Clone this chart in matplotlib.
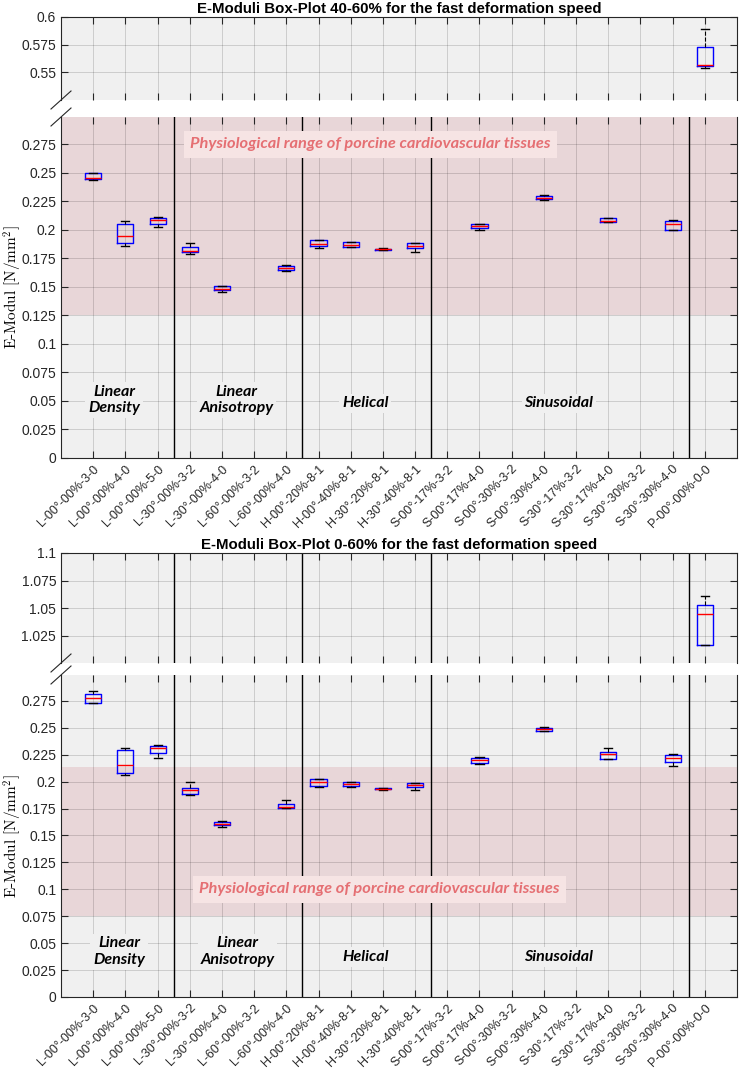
import numpy as np
import matplotlib
matplotlib.use('Agg')
import matplotlib.pyplot as plt
from matplotlib.lines import Line2D

plt.rcParams['font.family'] = ['Liberation Sans', 'DejaVu Sans']
plt.rcParams['mathtext.fontset'] = 'cm'
plt.rcParams['axes.formatter.use_mathtext'] = True

labels = ['L-00°-00%-3-0', 'L-00°-00%-4-0', 'L-00°-00%-5-0', 'L-30°-00%-3-2',
          'L-30°-00%-4-0', 'L-60°-00%-3-2', 'L-60°-00%-4-0', 'H-00°-20%-8-1',
          'H-00°-40%-8-1', 'H-30°-20%-8-1', 'H-30°-40%-8-1', 'S-00°-17%-3-2',
          'S-00°-17%-4-0', 'S-00°-30%-3-2', 'S-00°-30%-4-0', 'S-30°-17%-3-2',
          'S-30°-17%-4-0', 'S-30°-30%-3-2', 'S-30°-30%-4-0', 'P-00°-00%-0-0']
nan = np.nan

# 40-60 % range
med_a = [0.2452, 0.1945, 0.2091, 0.1816, 0.1486, nan, 0.1662, 0.1877, 0.1872, 0.1831,
         0.1860, nan, 0.2033, nan, 0.2284, nan, 0.2079, nan, 0.2053, 0.5566]
q1_a = [0.2445, 0.1886, 0.2053, 0.1802, 0.1474, nan, 0.1650, 0.1863, 0.1851, 0.1826,
        0.1837, nan, 0.2018, nan, 0.2272, nan, 0.2065, nan, 0.2003, 0.5554]
q3_a = [0.2495, 0.2050, 0.2108, 0.1854, 0.1504, nan, 0.1682, 0.1910, 0.1892, 0.1836,
        0.1883, nan, 0.2050, nan, 0.2298, nan, 0.2102, nan, 0.2076, 0.5725]
lo_a = [0.2438, 0.1863, 0.2024, 0.1787, 0.1457, nan, 0.1641, 0.1842, 0.1848, 0.1822,
        0.1805, nan, 0.2003, nan, 0.2266, nan, 0.2065, nan, 0.1997, 0.5536]
hi_a = [0.2498, 0.2079, 0.2117, 0.1881, 0.1507, nan, 0.1691, 0.1915, 0.1898, 0.1839,
        0.1885, nan, 0.2056, nan, 0.2304, nan, 0.2108, nan, 0.2088, 0.5890]

# 0-60 % range
med_b = [0.2773, 0.2151, 0.2314, 0.1918, 0.1608, nan, 0.1766, 0.1996, 0.1974, 0.1933,
         0.1965, nan, 0.2197, nan, 0.2485, nan, 0.2258, nan, 0.2218, 1.0442]
q1_b = [0.2732, 0.2076, 0.2265, 0.1887, 0.1596, nan, 0.1751, 0.1961, 0.1955, 0.1928,
        0.1946, nan, 0.2172, nan, 0.2472, nan, 0.2209, nan, 0.2178, 1.0167]
q3_b = [0.2810, 0.2293, 0.2330, 0.1937, 0.1624, nan, 0.1794, 0.2023, 0.1996, 0.1940,
        0.1986, nan, 0.2221, nan, 0.2497, nan, 0.2271, nan, 0.2246, 1.0523]
lo_b = [0.2728, 0.2058, 0.2216, 0.1875, 0.1578, nan, 0.1751, 0.1946, 0.1952, 0.1925,
        0.1918, nan, 0.2160, nan, 0.2469, nan, 0.2209, nan, 0.2144, 1.0167]
hi_b = [0.2838, 0.2314, 0.2336, 0.1993, 0.1636, nan, 0.1825, 0.2023, 0.1999, 0.1945,
        0.1989, nan, 0.2224, nan, 0.2504, nan, 0.2314, nan, 0.2258, 1.0607]

groups = ['Linear\nDensity', 'Linear\nAnisotropy', 'Helical', 'Sinusoidal']
separators = [3.5, 7.5, 11.5, 19.5]
phys_text = 'Physiological range of porcine cardiovascular tissues'

W, H = 740, 1074
BG = '#f0f0f0'
PINK = '#e8d6d8'
DARK = '#262626'


def px_rect(x0, y0, x1, y1):
    return [x0 / W, 1 - y1 / H, (x1 - x0) / W, (y1 - y0) / H]


def make_stats(med, q1, q3, lo, hi):
    stats, pos = [], []
    for i in range(len(med)):
        if np.isnan(med[i]):
            continue
        stats.append(dict(med=med[i], q1=q1[i], q3=q3[i], whislo=lo[i], whishi=hi[i], fliers=[]))
        pos.append(i + 1)
    return stats, pos


def style_axis(ax):
    ax.set_facecolor(BG)
    ax.set_xlim(0, 21)
    ax.set_xticks(range(1, 21))
    ax.grid(True, color='k', alpha=0.15, lw=0.7)
    ax.set_axisbelow(True)
    ax.tick_params(direction='in', length=5, top=True, right=True, colors=DARK,
                   labelsize=10)
    for s in ax.spines.values():
        s.set_color(DARK)
        s.set_linewidth(0.8)


def draw_boxes(ax, stats, pos):
    ax.bxp(stats, positions=pos, widths=0.5, capwidths=0.25, showfliers=False,
           boxprops=dict(color='#0000ff', lw=1.0),
           medianprops=dict(color='#ff0000', lw=1.0),
           whiskerprops=dict(color='k', lw=0.8, ls='--'),
           capprops=dict(color='k', lw=1.0), manage_ticks=False, zorder=5)


def panel(top_rect, low_rect, title, top_lim, top_ticks, low_lim, shade, data,
          phys_xy, group_xy, top_sep):
    stats, pos = make_stats(*data)
    ax_t = fig.add_axes(px_rect(*top_rect))
    ax_l = fig.add_axes(px_rect(*low_rect))
    for ax in (ax_t, ax_l):
        style_axis(ax)
        draw_boxes(ax, stats, pos)
    ax_t.set_ylim(*top_lim)
    ax_t.set_yticks(top_ticks)
    ax_t.set_yticklabels(['%g' % t for t in top_ticks])
    ax_t.set_xticklabels([])
    ax_t.spines['bottom'].set_visible(False)
    ax_t.set_title(title, fontsize=10.8, fontweight='bold', pad=3)

    ax_l.set_ylim(*low_lim)
    lt = np.arange(0, 0.28, 0.025)
    ax_l.set_yticks(lt)
    ax_l.set_yticklabels(['%g' % round(t, 3) for t in lt])
    ax_l.spines['top'].set_visible(False)
    ax_l.set_xticklabels(labels, rotation=45, ha='right', rotation_mode='anchor',
                         fontsize=9)
    ax_l.set_ylabel('E-Modul [N/mm$^2$]', fontsize=11, family='cmr10', va='center')
    ax_l.yaxis.set_label_coords((12.5 - 61) / 676, 0.5)
    ax_l.axhspan(shade[0], shade[1], color=PINK, zorder=0.3, lw=0)

    for x in separators:
        ax_l.axvline(x, color='k', lw=1.0, zorder=1)
        if top_sep:
            ax_t.axvline(x, color='k', lw=1.0, zorder=1)

    ax_l.text(phys_xy[0], phys_xy[1], phys_text, ha='center', va='center',
              fontsize=11.8, color='#e56f73', family='Lato', style='italic',
              fontweight='bold', zorder=3,
              bbox=dict(facecolor='#f6e4e4', edgecolor='none', pad=4.5))
    for g, (x, y) in zip(groups, group_xy):
        ax_l.text(x, y, g, ha='center', va='center', fontsize=11.5, family='Lato',
                  style='italic', fontweight='bold', color='k', zorder=3,
                  linespacing=1.25,
                  bbox=dict(facecolor=BG, edgecolor='none', pad=2))

    # break marks
    for yy in (top_rect[3], low_rect[1]):
        x0 = top_rect[0]
        fig.add_artist(Line2D([(x0 - 10) / W, (x0 + 10) / W],
                              [1 - (yy + 9) / H, 1 - (yy - 9) / H],
                              color=DARK, lw=0.8))


fig = plt.figure(figsize=(7.4, 10.74), dpi=100)

panel((61, 17, 737, 100), (61, 117, 737, 458),
      'E-Moduli Box-Plot 40-60% for the fast deformation speed',
      (0.525, 0.6), [0.55, 0.575, 0.6], (0, 0.299), (0.125, 0.35),
      (med_a, q1_a, q3_a, lo_a, hi_a), (9.6, 0.275),
      [(1.65, 0.0508), (5.45, 0.0508), (9.45, 0.048), (15.47, 0.048)], False)

panel((61, 553, 737, 663), (61, 675, 737, 997),
      'E-Moduli Box-Plot 0-60% for the fast deformation speed',
      (1.0, 1.1), [1.025, 1.05, 1.075, 1.1], (0, 0.299), (0.075, 0.2135),
      (med_b, q1_b, q3_b, lo_b, hi_b), (9.9, 0.1),
      [(1.8, 0.042), (5.48, 0.042), (9.45, 0.037), (15.47, 0.037)], True)

fig.savefig('out.png', dpi=100)
